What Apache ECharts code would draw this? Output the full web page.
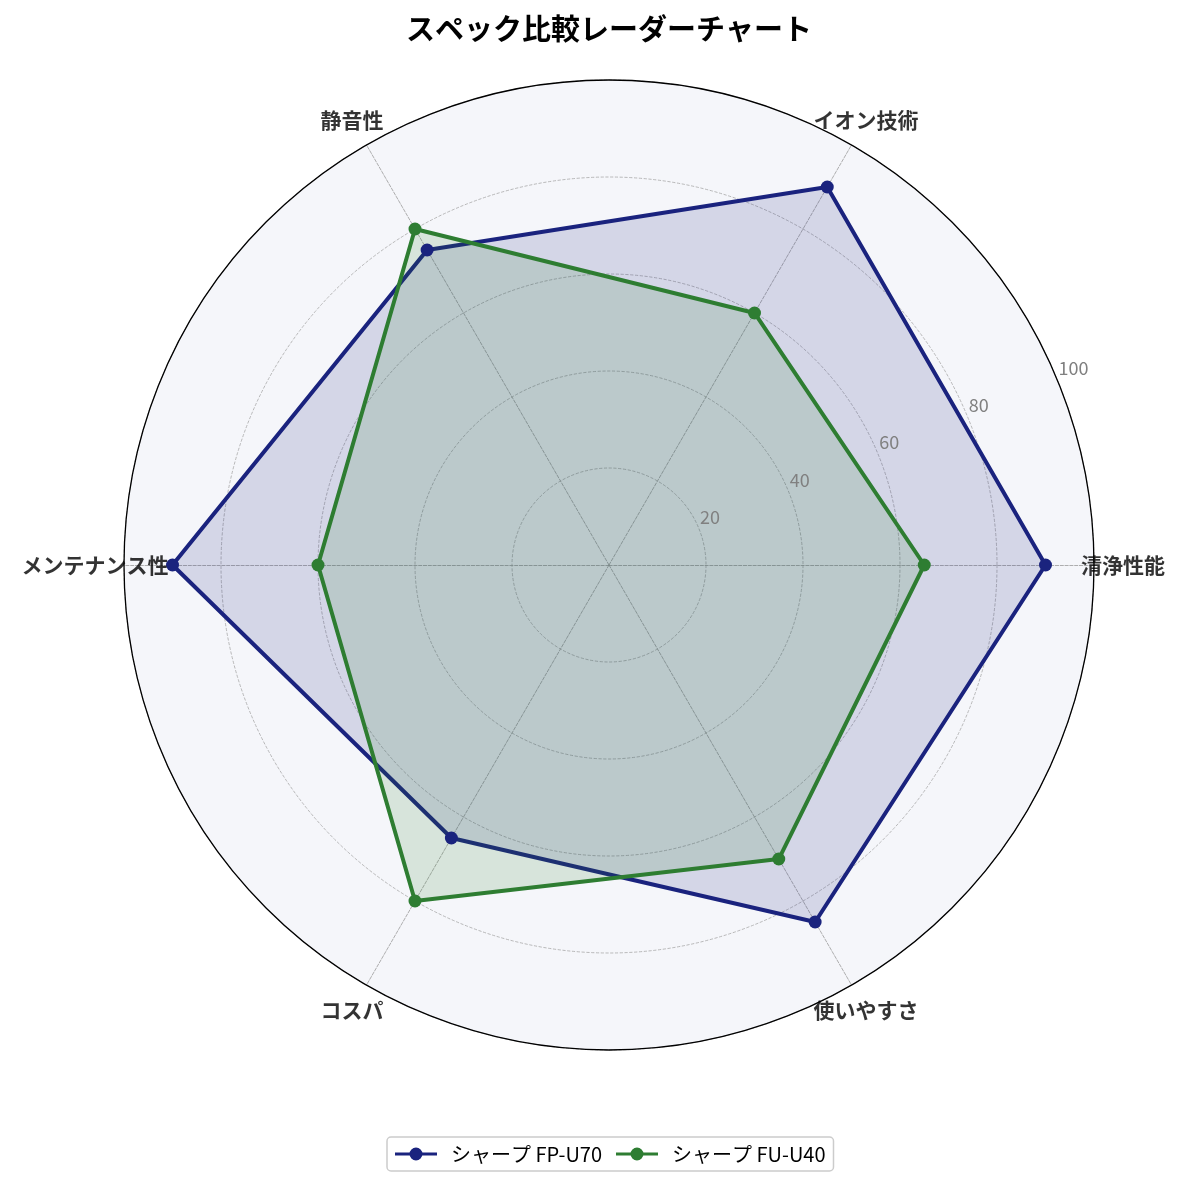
<!DOCTYPE html>
<html>
<head>
<meta charset="utf-8">
<script src="https://cdn.jsdelivr.net/npm/echarts@6/dist/echarts.min.js"></script>
<style>
  html, body { margin: 0; padding: 0; background: #fff; }
  #chart { width: 1185px; height: 1186px; }
</style>
</head>
<body>
<div id="chart"></div>
<script>
// categories, counterclockwise from the right
const categories = ['清浄性能', 'イオン技術', '静音性', 'メンテナンス性', 'コスパ', '使いやすさ'];
const seriesNames = ['シャープ FP-U70', 'シャープ FU-U40'];
const fpU70 = [90, 90, 75, 90, 65, 85];
const fuU40 = [65, 60, 80, 60, 80, 70];
const ticks = [0, 20, 40, 60, 80, 100];

const colors = ['#1a237e', '#2e7d32'];
const center = [609, 565];
const radius = 485;
const labelR = 106; // where the category names sit, in axis units

let chart = echarts.init(document.getElementById('chart'));

let option = {
    animation: false,
    textStyle: { fontFamily: 'Noto Sans CJK JP' },
    title: {
        text: 'スペック比較レーダーチャート',
        left: 604,
        textAlign: 'center',
        top: 9,
        textStyle: { fontSize: 29, fontWeight: 'bold', color: '#000', fontFamily: 'Noto Sans CJK JP' }
    },
    legend: {
        data: seriesNames,
        top: 1137,
        left: 387,
        icon: 'path://M0,5.1h42v2.8h-42z M14.5,6.5a6.5,6.5 0 1,1 13,0a6.5,6.5 0 1,1 -13,0z',
        itemWidth: 42,
        itemHeight: 13,
        itemGap: 14,
        padding: [7, 8],
        borderColor: '#cccccc',
        borderWidth: 1.5,
        borderRadius: 4,
        textStyle: { fontSize: 20, color: '#000', fontFamily: 'Noto Sans CJK JP', padding: [0, 0, 0, 9] }
    },
    radar: {
        center: center,
        radius: radius,
        startAngle: 0,
        shape: 'circle',
        splitNumber: 5,
        indicator: categories.map(n => ({ name: n, min: 0, max: 100 })),
        axisName: { show: false },
        axisLine: { lineStyle: { color: '#9a9a9a', type: 'dashed', width: 0.8 } },
        splitLine: { lineStyle: { color: '#a8a8a8', type: 'dashed', width: 0.8 } },
        splitArea: { show: true, areaStyle: { color: ['#f5f6fa'] } }
    },
    polar: [
        { center: center, radius: radius },
        { center: center, radius: radius }
    ],
    angleAxis: [
        {
            polarIndex: 0,
            type: 'value',
            min: 0,
            max: categories.length,
            interval: 1,
            startAngle: 0,
            clockwise: false,
            z: 1,
            axisLine: { show: true, lineStyle: { color: '#000', width: 1.3 } },
            axisTick: { show: false },
            axisLabel: { show: false },
            splitLine: { show: false }
        },
        {
            polarIndex: 1,
            type: 'value',
            min: 0,
            max: 360,
            startAngle: 22.5,
            clockwise: false,
            axisLine: { show: false },
            axisTick: { show: false },
            axisLabel: { show: false },
            splitLine: { show: false }
        }
    ],
    radiusAxis: [
        {
            polarIndex: 0,
            min: 0,
            max: 100,
            axisLine: { show: false },
            axisTick: { show: false },
            axisLabel: { show: false },
            splitLine: { show: false }
        },
        {
            polarIndex: 1,
            min: ticks[0],
            max: ticks[ticks.length - 1],
            interval: 20,
            z: 10,
            axisLine: { show: false },
            axisTick: { show: false },
            splitLine: { show: false },
            axisLabel: {
                show: true,
                margin: 12,
                align: 'left',
                verticalAlign: 'middle',
                padding: [0, 0, 0, 6],
                fontSize: 18,
                color: '#808080',
                formatter: v => (v === 0 ? '' : String(v))
            }
        }
    ],
    series: [
        {
            type: 'radar',
            z: 3,
            symbol: 'circle',
            symbolSize: 13,
            data: [
                {
                    name: seriesNames[0],
                    value: fpU70,
                    itemStyle: { color: colors[0] },
                    lineStyle: { color: colors[0], width: 4 },
                    areaStyle: { color: colors[0], opacity: 0.15 }
                },
                {
                    name: seriesNames[1],
                    value: fuU40,
                    itemStyle: { color: colors[1] },
                    lineStyle: { color: colors[1], width: 4 },
                    areaStyle: { color: colors[1], opacity: 0.15 }
                }
            ]
        },
        {
            // category names around the circle
            type: 'scatter',
            coordinateSystem: 'polar',
            polarIndex: 0,
            clip: false,
            silent: true,
            z: 20,
            symbolSize: 1,
            itemStyle: { color: 'rgba(0,0,0,0)' },
            data: categories.map((c, i) => [labelR, i]),
            label: {
                show: true,
                position: 'inside',
                formatter: p => categories[p.dataIndex],
                fontSize: 21,
                fontWeight: 'bold',
                color: '#000',
                fontFamily: 'Noto Sans CJK JP'
            }
        }
    ]
};

chart.setOption(option);
</script>
</body>
</html>
